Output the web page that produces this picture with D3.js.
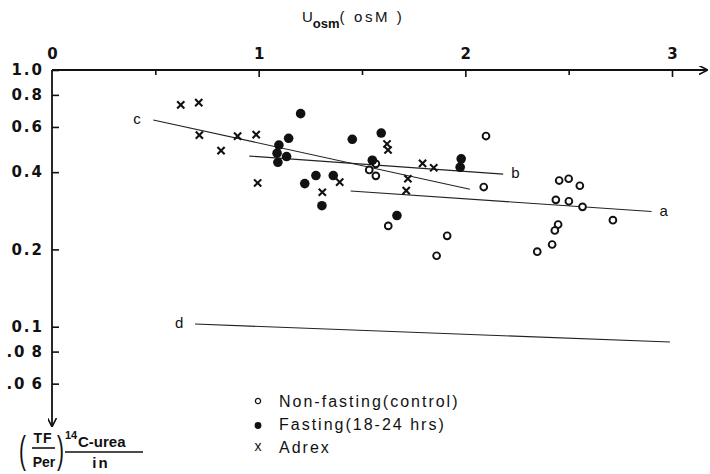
<!DOCTYPE html>
<html>
  <head>
    <script src="https://d3js.org/d3.v7.min.js"></script>
    <style>
    body { margin: 0; background: #fff; }
    .axis text {
      font-family: "DejaVu Sans", sans-serif;
      font-weight: bold;
      font-size: 15px;
      fill: #111;
    }
    .axis line { stroke: #111; stroke-width: 1.6; }
    .plain {
      font-family: "Liberation Sans", Arial, sans-serif;
      fill: #111;
    }
    </style>
  </head>
  <body>
    <script>

    // ---- data ----
    // non-fasting (control): [Uosm, (TF/Per)]
    var nonFasting = [
      [1.567, 0.431], [1.535, 0.408], [1.567, 0.387], [2.100, 0.553],
      [2.089, 0.350], [1.627, 0.247], [1.912, 0.226], [1.861, 0.189],
      [2.454, 0.371], [2.500, 0.377], [2.554, 0.354], [2.438, 0.312],
      [2.501, 0.308], [2.567, 0.293], [2.714, 0.260], [2.449, 0.250],
      [2.433, 0.237], [2.420, 0.209], [2.348, 0.196]
    ];

    // fasting (18-24 hrs)
    var fasting = [
      [1.203, 0.676], [1.145, 0.542], [1.098, 0.510], [1.089, 0.474],
      [1.093, 0.437], [1.135, 0.460], [1.223, 0.361], [1.277, 0.388],
      [1.361, 0.388], [1.306, 0.296], [1.453, 0.537], [1.593, 0.568],
      [1.550, 0.445], [1.980, 0.451], [1.975, 0.418], [1.669, 0.271]
    ];

    // adrex
    var adrex = [
      [0.623, 0.731], [0.710, 0.746], [0.713, 0.558], [0.818, 0.485],
      [0.898, 0.553], [0.988, 0.560], [0.995, 0.363], [1.308, 0.334],
      [1.392, 0.366], [1.621, 0.515], [1.626, 0.488], [1.793, 0.433],
      [1.847, 0.416], [1.722, 0.377], [1.714, 0.339]
    ];

    // regression lines (end points) and their labels
    var lineNames = ["a", "b", "c", "d"];
    var lineEnds = [
      [[1.445, 0.338], [2.901, 0.281]],
      [[0.955, 0.462], [2.183, 0.393]],
      [[0.490, 0.639], [2.022, 0.343]],
      [[0.692, 0.1024], [2.990, 0.0872]]
    ];

    // axis ticks
    var xTicks = [0, 1, 2, 3];
    var xMinorTicks = [0.5, 1.5, 2.5];
    var yTicks = [1.0, 0.8, 0.6, 0.4, 0.2, 0.1, 0.08, 0.06];
    var yTickLabels = ["1.0", "0.8", "0.6", "0.4", "0.2", "0.1", ".0\u20098", ".0\u20096"];

    var legendLabels = ["Non-fasting(control)", "Fasting(18-24 hrs)", "Adrex"];

    // ---- layout ----
    var w = 710;
    var h = 474;

    var xScale = d3.scaleLinear()
      .domain([0, 3])
      .range([52, 672]);

    var yScale = d3.scaleLog()
      .domain([1, 0.1])
      .range([70, 326.7]);

    var svg = d3.select("body")
      .append("svg")
      .attr("width", w)
      .attr("height", h);

    // arrow heads
    var defs = svg.append("defs");
    defs.append("marker")
      .attr("id", "arrow")
      .attr("viewBox", "0 0 10 10")
      .attr("refX", 9)
      .attr("refY", 5)
      .attr("markerWidth", 9)
      .attr("markerHeight", 9)
      .attr("markerUnits", "userSpaceOnUse")
      .attr("orient", "auto")
      .append("path")
      .attr("d", "M0,0 L10,5 L0,10")
      .attr("fill", "none")
      .attr("stroke", "#111")
      .attr("stroke-width", 1.8);

    // axis lines with arrows
    svg.append("line")
      .attr("x1", xScale(0)).attr("y1", yScale(1))
      .attr("x2", 707).attr("y2", yScale(1))
      .attr("stroke", "#111").attr("stroke-width", 1.8)
      .attr("marker-end", "url(#arrow)");

    svg.append("line")
      .attr("x1", xScale(0)).attr("y1", yScale(1))
      .attr("x2", xScale(0)).attr("y2", 426)
      .attr("stroke", "#111").attr("stroke-width", 1.8)
      .attr("marker-end", "url(#arrow)");

    // x axis (top), ticks pointing down into the plot
    var xAxis = d3.axisTop(xScale)
      .tickValues(xTicks)
      .tickFormat(d3.format("d"))
      .tickSizeInner(-7)
      .tickSizeOuter(0)
      .tickPadding(11);

    var gx = svg.append("g")
      .attr("class", "axis")
      .attr("transform", "translate(0," + yScale(1) + ")")
      .call(xAxis);
    gx.select(".domain").remove();
    gx.selectAll(".tick").filter(function(d) { return d === 0; }).select("line").remove();

    var xMinor = d3.axisTop(xScale)
      .tickValues(xMinorTicks)
      .tickFormat("")
      .tickSizeInner(-5)
      .tickSizeOuter(0);

    svg.append("g")
      .attr("class", "axis")
      .attr("transform", "translate(0," + yScale(1) + ")")
      .call(xMinor)
      .select(".domain").remove();

    // y axis (left), log scale, ticks pointing right
    var yAxis = d3.axisLeft(yScale)
      .tickValues(yTicks)
      .tickFormat(function(d, i) { return yTickLabels[i]; })
      .tickSizeInner(-7)
      .tickSizeOuter(0)
      .tickPadding(8);

    var gy = svg.append("g")
      .attr("class", "axis")
      .attr("transform", "translate(" + xScale(0) + ",0)")
      .call(yAxis);
    gy.select(".domain").remove();
    gy.selectAll("text").attr("letter-spacing", "2px");

    // x axis title
    var title = svg.append("text")
      .attr("class", "plain")
      .attr("x", 302)
      .attr("y", 22)
      .style("font-size", "15px");
    title.append("tspan").text("U");
    title.append("tspan").attr("dy", 6).style("font-weight", "bold").style("font-size", "13px").text("osm");
    title.append("tspan").attr("dy", -6).attr("letter-spacing", "2.6px").text("( osM )");

    // regression lines
    svg.append("g")
      .selectAll("line")
      .data(lineEnds)
      .enter()
      .append("line")
      .attr("x1", function(d) { return xScale(d[0][0]); })
      .attr("y1", function(d) { return yScale(d[0][1]); })
      .attr("x2", function(d) { return xScale(d[1][0]); })
      .attr("y2", function(d) { return yScale(d[1][1]); })
      .attr("stroke", "#222")
      .attr("stroke-width", 1.1);

    // line labels: a, b at the right end, c, d at the left end
    svg.append("g")
      .selectAll("text")
      .data(lineEnds)
      .enter()
      .append("text")
      .attr("class", "plain")
      .style("font-size", "15px")
      .attr("x", function(d, i) {
        return i < 2 ? xScale(d[1][0]) + 8 : xScale(d[0][0]) - 20;
      })
      .attr("y", function(d, i) {
        return (i < 2 ? yScale(d[1][1]) : yScale(d[0][1])) + 4;
      })
      .text(function(d, i) { return lineNames[i]; });

    // non-fasting: open circles
    svg.append("g")
      .selectAll("circle")
      .data(nonFasting)
      .enter()
      .append("circle")
      .attr("cx", function(d) { return xScale(d[0]); })
      .attr("cy", function(d) { return yScale(d[1]); })
      .attr("r", 3.4)
      .attr("fill", "#fff")
      .attr("stroke", "#111")
      .attr("stroke-width", 1.9);

    // fasting: filled circles
    svg.append("g")
      .selectAll("circle")
      .data(fasting)
      .enter()
      .append("circle")
      .attr("cx", function(d) { return xScale(d[0]); })
      .attr("cy", function(d) { return yScale(d[1]); })
      .attr("r", 4.8)
      .attr("fill", "#111");

    // adrex: crosses
    var cs = 3.6;
    svg.append("g")
      .selectAll("path")
      .data(adrex)
      .enter()
      .append("path")
      .attr("d", function(d) {
        var cx = xScale(d[0]), cy = yScale(d[1]);
        return "M" + (cx - cs) + "," + (cy - cs) + "L" + (cx + cs) + "," + (cy + cs) +
               "M" + (cx + cs) + "," + (cy - cs) + "L" + (cx - cs) + "," + (cy + cs);
      })
      .attr("stroke", "#111")
      .attr("stroke-width", 2.1)
      .attr("fill", "none");

    // legend
    var legend = svg.append("g").attr("transform", "translate(258,401)");
    legend.append("circle")
      .attr("cx", 0).attr("cy", 0).attr("r", 2.6)
      .attr("fill", "#fff").attr("stroke", "#111").attr("stroke-width", 1.3);
    legend.append("circle")
      .attr("cx", 0).attr("cy", 24.5).attr("r", 3.4)
      .attr("fill", "#111");
    legend.append("text")
      .attr("class", "plain")
      .attr("x", 0).attr("y", 50)
      .attr("text-anchor", "middle")
      .style("font-size", "14px")
      .text("x");
    legend.selectAll("text.lab")
      .data(legendLabels)
      .enter()
      .append("text")
      .attr("class", "plain lab")
      .attr("x", 21)
      .attr("y", function(d, i) { return 6 + i * 23; })
      .attr("letter-spacing", "2px")
      .style("font-size", "16px")
      .text(function(d) { return d; });

    // y axis title: (TF/Per) 14C-urea / in
    var yt = svg.append("g").attr("class", "plain");
    yt.append("text").attr("class", "plain")
      .attr("x", 19).attr("y", 463)
      .style("font-size", "38px").style("font-weight", "300")
      .attr("transform", "translate(19,463) scale(0.55,1) translate(-19,-463)")
      .text("(");
    yt.append("text").attr("class", "plain")
      .attr("x", 43).attr("y", 443)
      .attr("text-anchor", "middle")
      .style("font-size", "14px").style("font-weight", "bold")
      .attr("letter-spacing", "1px")
      .text("TF");
    yt.append("line")
      .attr("x1", 32).attr("x2", 55).attr("y1", 448).attr("y2", 448)
      .attr("stroke", "#111").attr("stroke-width", 1.6);
    yt.append("text").attr("class", "plain")
      .attr("x", 44).attr("y", 467)
      .attr("text-anchor", "middle")
      .style("font-size", "14px").style("font-weight", "bold")
      .text("Per");
    yt.append("text").attr("class", "plain")
      .attr("x", 57).attr("y", 463)
      .style("font-size", "38px").style("font-weight", "300")
      .attr("transform", "translate(57,463) scale(0.55,1) translate(-57,-463)")
      .text(")");
    yt.append("text").attr("class", "plain")
      .attr("x", 65).attr("y", 439)
      .style("font-size", "11px").style("font-weight", "bold")
      .text("14");
    yt.append("text").attr("class", "plain")
      .attr("x", 78).attr("y", 447)
      .style("font-size", "15px").style("font-weight", "bold")
      .text("C-urea");
    yt.append("line")
      .attr("x1", 65).attr("x2", 143).attr("y1", 452).attr("y2", 452)
      .attr("stroke", "#111").attr("stroke-width", 1.6);
    yt.append("text").attr("class", "plain")
      .attr("x", 101).attr("y", 468)
      .attr("text-anchor", "middle")
      .attr("letter-spacing", "2px")
      .style("font-size", "15px").style("font-weight", "bold")
      .text("in");

    </script>
  </body>
</html>
